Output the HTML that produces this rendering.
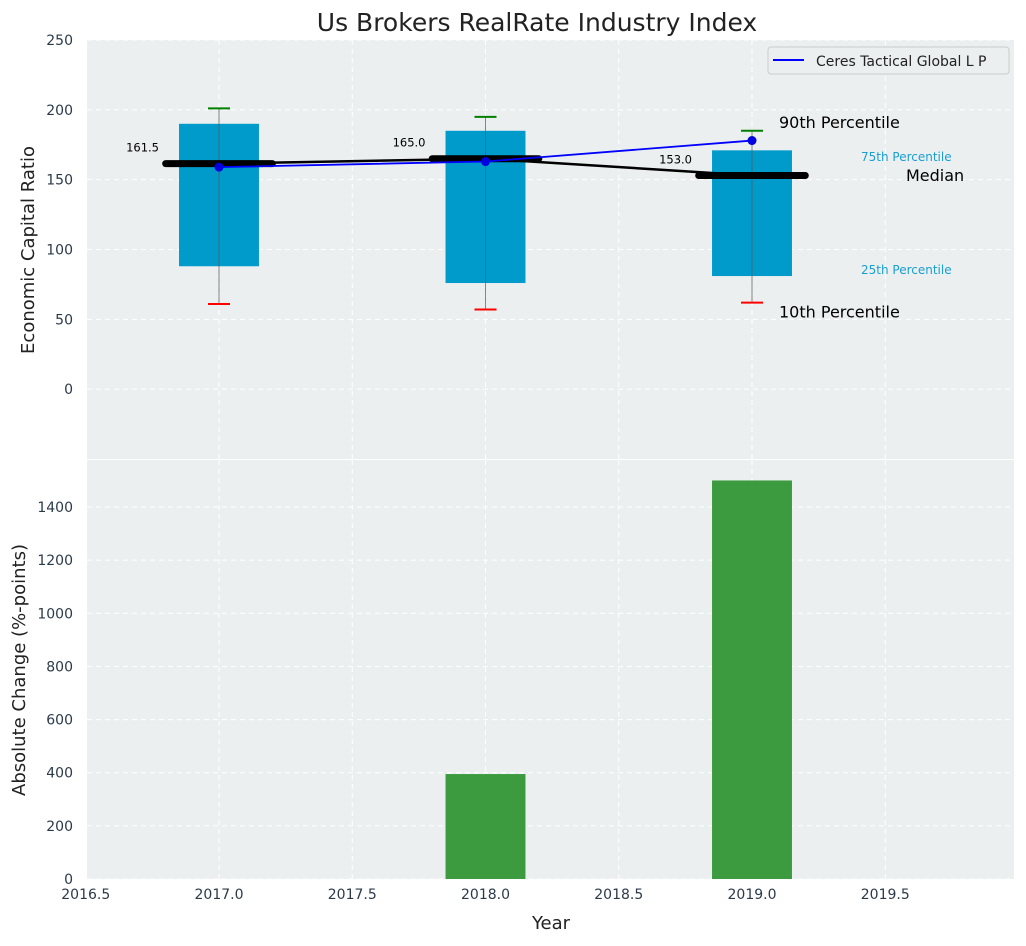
<!DOCTYPE html>
<html><head><meta charset="utf-8"><style>
body{margin:0;background:#fff;font-family:"DejaVu Sans","Liberation Sans",sans-serif}
svg text{font-family:"DejaVu Sans","Liberation Sans",sans-serif}
</style></head><body>
<svg id="chart" width="1026" height="942"></svg>
<script>
const years=[2017,2018,2019];
const p10=[61,57,62];
const p25=[88,76,81];
const medians=[161.5,165.0,153.0];
const p75=[190,185,171];
const p90=[201,195,185];
const ceres=[159,163,178];
const changes=[0,395,1500];
const xTicks=[2016.5,2017.0,2017.5,2018.0,2018.5,2019.0,2019.5];
const yTopTicks=[0,50,100,150,200,250];
const yBotTicks=[0,200,400,600,800,1000,1200,1400];

const NS='http://www.w3.org/2000/svg';
const svg=document.getElementById('chart');
const L=87,R=1014,T1=40,B1=459,T2=460,B2=879;
const xs=v=>219+(v-2017)*266.5;
const y1=v=>T1+(250-v)*(B1-T1)/300;
const y2=v=>B2-v*(B2-T2)/1577;
function el(tag,attrs,name,txt){const e=document.createElementNS(NS,tag);for(const k in attrs)e.setAttribute(k,attrs[k]);


if(txt!==undefined)e.textContent=txt;svg.appendChild(e);return e;}

el('rect',{x:L,y:T1,width:R-L,height:B1-T1,fill:'#ebeff0'},'top-plot-area');
el('rect',{x:L,y:T2,width:R-L,height:B2-T2,fill:'#ebeff0'},'bottom-plot-area');
xTicks.forEach(t=>{
 el('line',{x1:xs(t),x2:xs(t),y1:T1,y2:B1,stroke:'#fff','stroke-dasharray':'5,4','stroke-width':1},'top-x-grid');
 el('line',{x1:xs(t),x2:xs(t),y1:T2,y2:B2,stroke:'#fff','stroke-dasharray':'5,4','stroke-width':1},'bottom-x-grid');
 el('text',{x:xs(t),y:B2+20,'text-anchor':'middle','font-size':14,fill:'#2b3a4a'},'x-tick-label',t.toFixed(1));
});
yTopTicks.forEach(t=>{
 el('line',{x1:L,x2:R,y1:y1(t),y2:y1(t),stroke:'#fff','stroke-dasharray':'5,4'},'top-y-grid');
 el('text',{x:L-14,y:y1(t)+5,'text-anchor':'end','font-size':14,fill:'#2b3a4a'},'top-y-tick-label',t);
});
yBotTicks.forEach(t=>{
 el('line',{x1:L,x2:R,y1:y2(t),y2:y2(t),stroke:'#fff','stroke-dasharray':'5,4'},'bottom-y-grid');
 el('text',{x:L-14,y:y2(t)+5,'text-anchor':'end','font-size':14,fill:'#2b3a4a'},'bottom-y-tick-label',t);
});
const bw=0.3;
years.forEach((yr,i)=>{
 el('rect',{x:xs(yr-bw/2),y:y1(p75[i]),width:xs(yr+bw/2)-xs(yr-bw/2),height:y1(p25[i])-y1(p75[i]),fill:'#009bcb'},'box-'+yr);
 el('line',{x1:xs(yr),x2:xs(yr),y1:y1(p90[i]),y2:y1(p10[i]),stroke:'#555','stroke-width':1,opacity:0.7},'whisker-'+yr);
 el('line',{x1:xs(yr)-11,x2:xs(yr)+11,y1:y1(p90[i]),y2:y1(p90[i]),stroke:'green','stroke-width':2},'p90-cap-'+yr);
 el('line',{x1:xs(yr)-11,x2:xs(yr)+11,y1:y1(p10[i]),y2:y1(p10[i]),stroke:'red','stroke-width':2},'p10-cap-'+yr);
 if(changes[i]>0)el('rect',{x:xs(yr-0.15),y:y2(changes[i]),width:xs(yr+0.15)-xs(yr-0.15),height:B2-y2(changes[i]),fill:'#3c9b3e'},'change-bar-'+yr);
});
el('polyline',{points:years.map((y,i)=>xs(y)+','+y1(medians[i])).join(' '),fill:'none',stroke:'#000','stroke-width':2.5},'median-trend-line');
years.forEach((yr,i)=>{
 el('line',{x1:xs(yr-0.2),x2:xs(yr+0.2),y1:y1(medians[i]),y2:y1(medians[i]),stroke:'#000','stroke-width':7,'stroke-linecap':'round'},'median-'+yr);
 el('text',{x:xs(yr)-60,y:y1(medians[i])-12,'text-anchor':'end','font-size':11.5,fill:'#000'},'median-label-'+yr,medians[i].toFixed(1));
});
el('polyline',{points:years.map((y,i)=>xs(y)+','+y1(ceres[i])).join(' '),fill:'none',stroke:'#0000ff','stroke-width':1.8},'ceres-line');
years.forEach((yr,i)=>el('circle',{cx:xs(yr),cy:y1(ceres[i]),r:4.5,fill:'#0000e0'},'ceres-point-'+yr));
const lx=xs(2019)+27;
el('text',{x:lx,y:y1(p90[2])-3,'font-size':16,fill:'#000'},'p90-annotation','90th Percentile');
el('text',{x:lx,y:y1(p10[2])+15,'font-size':16,fill:'#000'},'p10-annotation','10th Percentile');
el('text',{x:861,y:161,'font-size':12,fill:'#1a9fd0'},'p75-annotation','75th Percentile');
el('text',{x:861,y:274,'font-size':12,fill:'#1a9fd0'},'p25-annotation','25th Percentile');
el('text',{x:906,y:181,'font-size':16,fill:'#000'},'median-annotation','Median');
el('rect',{x:768,y:47,width:241,height:27,rx:3,fill:'#ebeff0',stroke:'#ccc'},'legend');
el('line',{x1:773,x2:804,y1:60,y2:60,stroke:'#0000ff','stroke-width':2},'legend-line');
el('text',{x:816,y:66,'font-size':14,fill:'#222'},'legend-label','Ceres Tactical Global L P');
el('text',{x:537,y:31,'text-anchor':'middle','font-size':25,fill:'#222'},'chart-title','Us Brokers RealRate Industry Index');
el('text',{x:551,y:929,'text-anchor':'middle','font-size':18,fill:'#222'},'x-axis-title','Year');
el('text',{x:34,y:250,'text-anchor':'middle','font-size':18,fill:'#222',transform:'rotate(-90 34 250)'},'top-y-axis-title','Economic Capital Ratio');
el('text',{x:25,y:670,'text-anchor':'middle','font-size':18,fill:'#222',transform:'rotate(-90 25 670)'},'bottom-y-axis-title','Absolute Change (%-points)');
</script>
</body></html>
